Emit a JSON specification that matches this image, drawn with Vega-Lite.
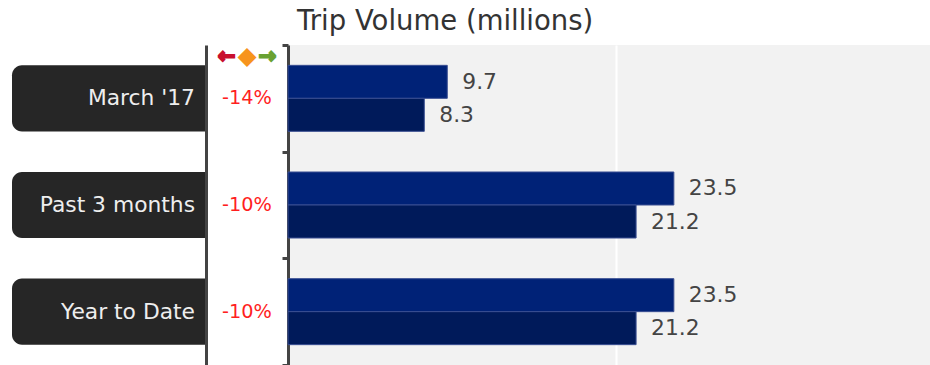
{
  "$schema": "https://vega.github.io/schema/vega-lite/v6.json",
  "padding": {"left": 12, "top": 8, "right": 0, "bottom": 0},
  "background": "white",
  "config": {"font": "DejaVu Sans", "view": {"stroke": null}},
  "title": {"text": "Trip Volume (millions)", "anchor": "start", "dx": 285, "fontSize": 27.5, "fontWeight": "normal", "color": "#333333", "offset": 8},
  "bounds": "flush",
  "spacing": 0,
  "resolve": {"scale": {"color": "independent", "stroke": "independent", "x": "independent", "y": "independent", "yOffset": "independent"}},
  "datasets": {
    "volume": [
      {"period": "March '17", "series": "2016", "value": 9.7},
      {"period": "March '17", "series": "2017", "value": 8.3},
      {"period": "Past 3 months", "series": "2016", "value": 23.5},
      {"period": "Past 3 months", "series": "2017", "value": 21.2},
      {"period": "Year to Date", "series": "2016", "value": 23.5},
      {"period": "Year to Date", "series": "2017", "value": 21.2}
    ],
    "change": [
      {"period": "March '17", "change": "-14%"},
      {"period": "Past 3 months", "change": "-10%"},
      {"period": "Year to Date", "change": "-10%"}
    ],
    "legend": [
      {"period": "March '17", "kind": "down", "icon": "←"},
      {"period": "March '17", "kind": "flat", "icon": "◆"},
      {"period": "March '17", "kind": "up", "icon": "→"}
    ]
  },
  "hconcat": [
    {
      "width": 194,
      "height": 320,
      "data": {"name": "change"},
      "encoding": {
        "y": {"field": "period", "type": "nominal", "sort": null, "scale": {"type": "band", "padding": 0, "domain": ["March '17", "Past 3 months", "Year to Date"]}, "axis": null}
      },
      "layer": [
        {
          "mark": {"type": "bar", "color": "#262626", "cornerRadiusTopLeft": 10, "cornerRadiusBottomLeft": 10, "height": {"band": 0.62}},
          "encoding": {
            "x": {"datum": 0, "type": "quantitative", "scale": {"domain": [0, 1], "nice": false}, "axis": null},
            "x2": {"datum": 1}
          }
        },
        {
          "mark": {"type": "text", "align": "right", "baseline": "middle", "dx": -11, "fontSize": 21.8, "color": "#EEEEEE"},
          "encoding": {
            "x": {"datum": 1, "type": "quantitative"},
            "text": {"field": "period"}
          }
        }
      ]
    },
    {
      "width": 82,
      "height": 320,
      "encoding": {
        "y": {"field": "period", "type": "nominal", "sort": null, "scale": {"type": "band", "padding": 0, "domain": ["March '17", "Past 3 months", "Year to Date"]},
              "axis": {"domain": true, "domainColor": "#444444", "domainWidth": 3, "ticks": false, "labels": false, "title": null, "grid": false, "minExtent": 0, "maxExtent": 0}}
      },
      "layer": [
        {
          "data": {"name": "change"},
          "mark": {"type": "text", "baseline": "middle", "fontSize": 19.3, "color": "#FF1F1F"},
          "encoding": {
            "text": {"field": "change"}
          }
        },
        {
          "data": {"name": "legend"},
          "mark": {"type": "text", "baseline": "middle", "fontSize": 21, "fontWeight": "bold", "dy": -41, "strokeWidth": 2},
          "encoding": {
            "x": {"field": "kind", "type": "nominal", "sort": null, "scale": {"type": "point", "padding": 1.1}, "axis": null},
            "text": {"field": "icon"},
            "color": {"field": "kind", "type": "nominal", "scale": {"domain": ["down", "flat", "up"], "range": ["#C8102E", "#F7941D", "#6AA232"]}, "legend": null},
            "stroke": {"field": "kind", "type": "nominal", "scale": {"domain": ["down", "flat", "up"], "range": ["#C8102E", "#F7941D", "#6AA232"]}, "legend": null}
          }
        }
      ]
    },
    {
      "width": 642,
      "height": 320,
      "data": {"name": "volume"},
      "view": {"fill": "#F2F2F2", "stroke": null},
      "encoding": {
        "y": {"field": "period", "type": "nominal", "sort": null, "scale": {"type": "band", "padding": 0, "domain": ["March '17", "Past 3 months", "Year to Date"]},
              "axis": {"domain": true, "domainColor": "#444444", "domainWidth": 3, "ticks": true, "tickColor": "#444444", "tickWidth": 3, "tickSize": 6, "tickBand": "extent", "labels": false, "title": null, "grid": false}},
        "yOffset": {"field": "series", "type": "nominal", "sort": null, "scale": {"paddingInner": 0, "paddingOuter": 0.616}},
        "x": {"field": "value", "type": "quantitative", "scale": {"domain": [0, 39.1], "nice": false, "zero": true},
              "axis": {"values": [20], "grid": true, "gridColor": "#FFFFFF", "gridWidth": 2, "labels": false, "ticks": false, "domain": false, "title": null}}
      },
      "layer": [
        {
          "mark": {"type": "bar", "stroke": "#3A4F92", "strokeWidth": 1},
          "encoding": {
            "color": {"field": "series", "type": "nominal", "scale": {"domain": ["2016", "2017"], "range": ["#002277", "#001A5A"]}, "legend": null}
          }
        },
        {
          "mark": {"type": "text", "align": "left", "baseline": "middle", "dx": 15, "fontSize": 21.8, "color": "#444444"},
          "encoding": {
            "text": {"field": "value", "type": "quantitative", "format": ".1f"}
          }
        }
      ]
    }
  ]
}
